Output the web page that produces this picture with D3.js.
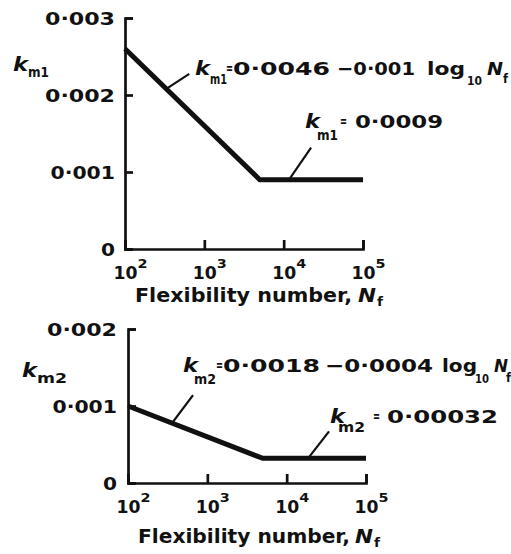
<!DOCTYPE html>
<html>
<head>
<meta charset="utf-8">
<script src="https://cdn.jsdelivr.net/npm/d3@7/dist/d3.min.js"></script>
<style>
  html, body { margin: 0; padding: 0; background: #fff; }
  svg { display: block; }
  text { font-family: "DejaVu Sans", sans-serif; font-weight: bold; fill: #111; }
</style>
</head>
<body>
<svg id="chart" width="511" height="554"></svg>
<script>
// Flexibility number (log axis) and break point where the sloped law meets the constant floor
const flexNumbers = [100, 5000, 100000];
const km1Values = [0.0026, 0.0009, 0.0009];
const km2Values = [0.001, 0.00032, 0.00032];

const xTickValues = [100, 1000, 10000, 100000];
const xTickExponents = ["2", "3", "4", "5"];

const km1Ticks = [0, 0.001, 0.002, 0.003];
const km1TickLabels = ["0", "0·001", "0·002", "0·003"];
const km2Ticks = [0, 0.001, 0.002];
const km2TickLabels = ["0", "0·001", "0·002"];

const svg = d3.select("#chart");
const INK = "#111";

// approximate advance widths of the wide label face
function labelWidth(s) {
  let w = 0;
  for (const c of s) w += c === "1" ? 11 : (c === "·" ? 6.5 : 16.5);
  return Math.max(w - 2.5, 12);
}

function put(parent, str, x, y, o = {}) {
  const t = parent.append("text")
    .attr("x", x).attr("y", y)
    .attr("font-size", o.size || 18.5)
    .attr("text-anchor", o.anchor || "start")
    .text(str);
  if (o.w) t.attr("textLength", o.w).attr("lengthAdjust", "spacingAndGlyphs");
  if (o.italic) t.attr("font-style", "italic");
  return t;
}

function panel(cfg) {
  const x = d3.scaleLog().domain([100, 100000]).range(cfg.xRange);
  const y = d3.scaleLinear().domain(cfg.yDomain).range(cfg.yRange);
  const g = svg.append("g");

  // y axis, ticks pointing into the plot
  const ya = g.append("g")
    .attr("transform", `translate(${cfg.xRange[0]},0)`)
    .call(d3.axisLeft(y).tickValues(cfg.yTicks).tickSize(-8).tickSizeOuter(-8)
      .tickPadding(cfg.yPad).tickFormat((d, i) => cfg.yLabels[i]));
  ya.attr("font-family", null).attr("font-size", null);
  ya.selectAll("path, line").attr("stroke", INK).attr("stroke-width", 2.7);
  ya.selectAll("text")
    .attr("font-size", 18.5)
    .attr("fill", INK)
    .attr("dy", "0.36em")
    .each(function () {
      const s = d3.select(this).text();
      d3.select(this).attr("textLength", labelWidth(s)).attr("lengthAdjust", "spacingAndGlyphs");
    });

  // x axis, ticks pointing up
  const y0 = cfg.yRange[0];
  const xa = g.append("g")
    .attr("transform", `translate(0,${y0})`)
    .call(d3.axisBottom(x).tickValues(xTickValues).tickSize(-9).tickSizeOuter(-9).tickFormat(""));
  xa.attr("font-family", null).attr("font-size", null);
  xa.selectAll("path, line").attr("stroke", INK).attr("stroke-width", 2.7);
  xa.selectAll(".tick").each(function (d, i) {
    const t = d3.select(this);
    put(t, "10", 0, 30, { anchor: "middle", w: 24 });
    put(t, xTickExponents[i], 12, 19, { size: 13, w: 10 });
  });

  // axis titles
  put(g, "Flexibility number,", cfg.title.x, cfg.title.y, { size: 20, w: cfg.title.w });
  put(g, "N", cfg.title.nx, cfg.title.y, { size: 20, italic: true, w: 18 });
  put(g, "f", cfg.title.nx + 19, cfg.title.y + 4, { size: 13, w: 6 });

  put(g, "k", cfg.yTitle.x, cfg.yTitle.y, { size: 20, italic: true, w: 15 });
  put(g, cfg.yTitle.sub, cfg.yTitle.x + 15, cfg.yTitle.y + 6, { size: 14, w: cfg.yTitle.subW });

  // the piecewise law
  const pts = flexNumbers.map((n, i) => ({ n, k: cfg.values[i] }));
  g.append("path")
    .datum(pts)
    .attr("fill", "none")
    .attr("stroke", INK)
    .attr("stroke-width", 5)
    .attr("stroke-linejoin", "miter")
    .attr("d", d3.line().x(d => x(d.n)).y(d => y(d.k)));

  // leader lines from the curve to each annotation
  cfg.leaders.forEach(l => {
    const px = x(l.n), py = y(l.k);
    g.append("line")
      .attr("x1", px).attr("y1", py)
      .attr("x2", px + l.dx).attr("y2", py + l.dy)
      .attr("stroke", INK).attr("stroke-width", 2.2);
  });

  // annotations
  cfg.notes.forEach(nt => {
    put(g, "k", nt.kx, nt.y, { size: 20, italic: true, w: 15 });
    put(g, nt.sub, nt.subx, nt.y + nt.subdy, { size: 14, w: nt.subw });
    put(g, "=", nt.eqx, nt.y - 2, { size: 15, w: 7 });
    nt.parts.forEach(p => put(g, p.s, p.x, nt.y + (p.dy || 0), { size: p.size || 18.5, w: p.w, italic: p.italic }));
  });
}

panel({
  xRange: [125, 363],
  yDomain: [0, 0.003],
  yRange: [249, 18],
  yTicks: km1Ticks,
  yLabels: km1TickLabels,
  yPad: 10,
  values: km1Values,
  title: { x: 135, y: 302, w: 217, nx: 358 },
  yTitle: { x: 13, y: 71, sub: "m1", subW: 21 },
  leaders: [
    { n: Math.pow(10, 2.52), k: 0.0046 - 0.001 * 2.52, dx: 23, dy: -15 },
    { n: 11700, k: 0.0009, dx: 22, dy: -32 }
  ],
  notes: [
    { kx: 195, y: 75, sub: "m1", subx: 210, subdy: 9, subw: 17, eqx: 226,
      parts: [
        { s: "0·0046", x: 233, w: 97 },
        { s: "−0·001", x: 337, w: 78 },
        { s: "log", x: 427, w: 38 },
        { s: "10", x: 467, w: 15, dy: 10, size: 13 },
        { s: "N", x: 487, w: 16, italic: true },
        { s: "f", x: 503, w: 5, dy: 8, size: 13 }
      ] },
    { kx: 305, y: 128, sub: "m1", subx: 317, subdy: 12, subw: 21, eqx: 340,
      parts: [
        { s: "0·0009", x: 355, w: 88 }
      ] }
  ]
});

panel({
  xRange: [128, 366],
  yDomain: [0, 0.002],
  yRange: [483, 329],
  yTicks: km2Ticks,
  yLabels: km2TickLabels,
  yPad: 11,
  values: km2Values,
  title: { x: 138, y: 543, w: 212, nx: 355 },
  yTitle: { x: 22, y: 377, sub: "m2", subW: 30 },
  leaders: [
    { n: Math.pow(10, 2.555), k: 0.0018 - 0.0004 * 2.555, dx: 21, dy: -28 },
    { n: 18600, k: 0.00032, dx: 21, dy: -27 }
  ],
  notes: [
    { kx: 183, y: 372, sub: "m2", subx: 194, subdy: 12, subw: 22, eqx: 216,
      parts: [
        { s: "0·0018", x: 223, w: 97 },
        { s: "−0·0004", x: 325, w: 108 },
        { s: "log", x: 442, w: 35 },
        { s: "10", x: 475, w: 14, dy: 11, size: 13 },
        { s: "N", x: 494, w: 14, italic: true },
        { s: "f", x: 506, w: 5, dy: 10, size: 13 }
      ] },
    { kx: 330, y: 423, sub: "m2", subx: 338, subdy: 9, subw: 27, eqx: 373,
      parts: [
        { s: "0·00032", x: 387, w: 111 }
      ] }
  ]
});
</script>
</body>
</html>
